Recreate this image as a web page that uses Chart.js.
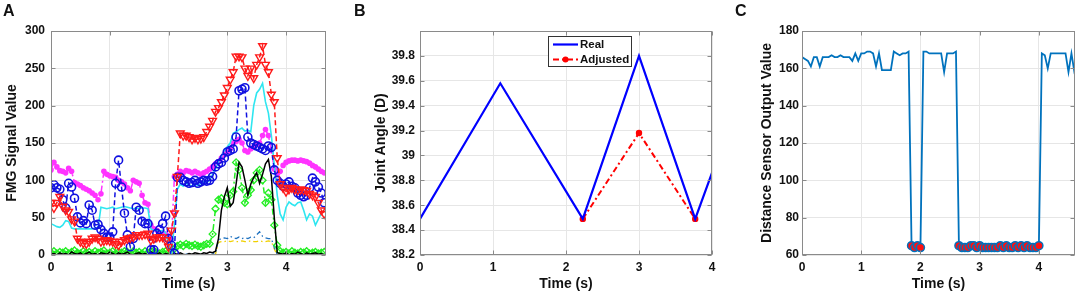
<!DOCTYPE html>
<html>
<head>
<meta charset="utf-8">
<script src="https://cdn.jsdelivr.net/npm/chart.js@4.4.0/dist/chart.umd.min.js"></script>
<style>
  body { margin: 0; background: #fff; width: 1084px; height: 302px; position: relative; overflow: hidden; }
  canvas { position: absolute; top: 0; }
  .lbl { position: absolute; top: 2px; font: bold 16px "Liberation Sans", Arial, sans-serif; color: #111; z-index: 2; }
</style>
</head>
<body>
<canvas id="chartA" width="345" height="302" style="left:0"></canvas>
<canvas id="chartB" width="362" height="302" style="left:368px"></canvas>
<canvas id="chartC" width="332" height="302" style="left:752px"></canvas>
<div class="lbl" style="left:3px">A</div>
<div class="lbl" style="left:354px">B</div>
<div class="lbl" style="left:735px">C</div>
<script>
// time stamps (s) shared by panel A and panel C
var tA = [0,0.05,0.1,0.15,0.2,0.25,0.3,0.35,0.4,0.45,
          0.5,0.55,0.6,0.65,0.7,0.75,0.8,0.85,0.9,0.95,
          1,1.05,1.1,1.15,1.2,1.25,1.3,1.35,1.4,1.45,
          1.5,1.55,1.6,1.65,1.7,1.75,1.8,1.85,1.9,1.95,
          2,2.05,2.1,2.15,2.2,2.25,2.3,2.35,2.4,2.45,
          2.5,2.55,2.6,2.65,2.7,2.75,2.8,2.85,2.9,2.95,
          3,3.05,3.1,3.15,3.2,3.25,3.3,3.35,3.4,3.45,
          3.5,3.55,3.6,3.65,3.7,3.75,3.8,3.85,3.9,3.95,
          4,4.05,4.1,4.15,4.2,4.25,4.3,4.35,4.4,4.45,
          4.5,4.55,4.6,4.65];

// panel A: FMG channels
var fmgRed = [70,63,70,78,65,60,58,48,45,22,
              18,16,15,18,22,24,22,18,19,20,
              19,18,15,13,18,20,22,23,24,27,
              27,27,28,29,20,22,24,24,24,20,
              11,33,56,105,163,160,160,158,155,157,
              155,156,158,165,172,180,192,197,205,214,
              224,235,245,266,266,265,250,240,250,237,
              255,265,280,255,245,215,205,130,95,90,
              85,88,90,88,87,88,87,86,82,80,
              78,70,60,55];
var fmgBlue = [90,94,90,88,74,63,96,91,76,51,
               43,46,42,67,60,40,41,34,29,24,
               24,31,96,127,91,56,27,11,22,64,
               60,45,42,42,7,7,29,34,42,52,
               22,13,2,104,104,100,98,96,97,100,
               96,98,100,99,100,105,118,122,124,130,
               138,140,142,158,220,222,224,158,150,148,
               146,144,142,140,146,144,114,100,96,92,
               95,98,92,90,83,80,78,80,90,103,
               98,91,83,70];
var fmgMagenta = [114,124,118,113,112,110,116,112,97,95,
                  93,90,88,86,83,80,74,82,112,108,
                  106,105,104,100,98,95,90,86,100,98,
                  96,80,70,68,40,35,33,30,30,28,
                  25,20,105,108,112,110,113,112,110,112,
                  110,108,110,112,115,118,122,125,130,135,
                  138,142,150,152,155,150,140,138,142,145,
                  148,150,160,168,160,140,115,108,112,120,
                  124,126,127,127,126,127,126,125,123,120,
                  118,115,112,110];
var fmgCyan = [42,40,38,37,40,46,45,36,35,35,
               35,35,35,35,35,36,36,64,63,62,
               63,64,62,63,64,65,64,63,62,63,
               62,63,63,62,35,33,33,32,33,30,
               15,4,40,88,95,92,96,94,92,95,
               93,96,98,97,100,108,115,125,132,140,
               145,150,163,165,168,170,166,167,165,200,
               217,222,230,205,190,160,120,80,55,47,
               64,71,68,66,70,71,60,47,55,52,
               40,48,56,60];
var fmgGreen = [3,5,2,4,3,5,2,4,6,3,
                2,5,3,4,2,5,3,4,6,2,
                3,5,2,4,3,5,4,2,5,3,
                4,2,5,3,4,6,3,2,4,5,
                3,2,8,12,14,12,15,13,12,14,
                12,11,13,15,15,28,62,74,76,70,
                68,80,85,124,114,90,70,80,87,100,
                110,114,100,70,83,74,40,13,5,3,
                4,2,5,3,2,4,3,5,2,3,
                4,2,3,4];
var fmgBlack = [1,2,0,3,1,2,0,4,2,1,
                3,0,2,4,1,2,0,3,2,1,
                4,2,0,3,1,2,4,1,0,2,
                3,1,2,0,4,2,1,3,0,2,
                1,0,2,1,3,1,0,2,1,3,
                2,1,3,2,4,3,5,22,60,78,
                90,65,70,95,124,118,100,80,95,104,
                110,96,108,122,128,105,50,3,2,1,
                3,0,2,1,4,2,0,3,1,2,
                3,1,2,0];
var fmgDarkBlue = [1,0,1,1,0,1,0,1,1,0,
                   1,1,0,1,0,1,1,0,1,0,
                   1,0,1,1,0,1,0,1,0,1,
                   1,0,1,0,1,1,0,1,0,1,
                   0,1,1,0,1,0,1,1,0,1,
                   1,0,1,1,0,1,3,20,22,23,
                   22,25,23,22,24,22,23,22,24,23,
                   27,31,25,23,22,22,10,1,0,1,
                   1,0,1,0,1,1,0,1,0,1,
                   0,1,1,0];
var fmgYellow = [0,0,0,0,0,0,0,0,0,0,
                 0,0,0,0,0,0,0,0,0,0,
                 0,0,0,0,0,0,0,0,0,0,
                 0,0,0,0,0,0,0,0,0,0,
                 0,0,0,0,0,0,0,0,0,0,
                 0,0,0,0,0,0,1,17,18,18,
                 19,18,19,18,18,19,18,18,19,18,
                 18,19,18,18,19,18,8,0,0,0,
                 0,0,0,0,0,0,0,0,0,0,
                 0,0,0,0];

// panel B: joint angle
var tReal = [0, 1.1, 2.23, 3.0, 3.77, 4.0];
var angleReal = [38.49, 39.58, 38.49, 39.8, 38.49, 38.86];
var tAdj = [2.23, 3.0, 3.77];
var angleAdj = [38.49, 39.18, 38.49];

// panel C: distance sensor
var distance = [166,165,164,161,166,166,161,166,166,166,
                167,166,166,167,166,166,166,164,168,164,
                168,168,169,169,168,161,168,159,159,159,
                159,169,168,167,168,168,169,65,64,65,
                64,169,169,168,168,168,168,168,158,168,
                168,168,169,65,64,64,64,65,65,64,
                65,64,64,64,64,64,64,65,64,65,
                64,64,65,64,65,64,65,64,64,64,
                65,168,167,160,168,168,168,168,168,168,
                158,168,158,160];
var tMark = [1.85,1.9,1.95,2,
             2.65,2.7,2.75,2.8,2.85,2.9,2.95,3,3.05,3.1,3.15,3.2,3.25,3.3,3.35,3.4,3.45,
             3.5,3.55,3.6,3.65,3.7,3.75,3.8,3.85,3.9,3.95,4];
var distMark = [65,64,65,64,
                65,64,64,64,65,65,64,65,64,64,64,64,64,64,65,64,65,
                64,64,65,64,65,64,65,64,64,64,65];

var tickFont = {family: 'Liberation Sans', weight: 'bold', size: 12};
var titleFont = {family: 'Liberation Sans', weight: 'bold', size: 14};
var clear = 'rgba(0,0,0,0)';

function series(label, xs, ys, style) {
  return Object.assign({
    label: label,
    data: xs.map(function (x, i) { return {x: x, y: ys[i]}; }),
    fill: false, tension: 0, pointRadius: 0, borderWidth: 1.5
  }, style);
}

// matlab style box with inward ticks
var frame = {
  id: 'frame',
  afterDatasetsDraw: function (chart) {
    var ctx = chart.ctx, a = chart.chartArea, sx = chart.scales.x, sy = chart.scales.y;
    var l = Math.round(a.left) + 0.5, r = Math.round(a.right) - 0.5;
    var t = Math.round(a.top) + 0.5, b = Math.round(a.bottom) - 0.5;
    ctx.save();
    ctx.strokeStyle = '#8a8a8a';
    ctx.lineWidth = 1;
    ctx.setLineDash([]);
    ctx.strokeRect(l, t, r - l, b - t);
    ctx.beginPath();
    sx.ticks.forEach(function (tk) {
      var px = Math.round(sx.getPixelForValue(tk.value)) + 0.5;
      ctx.moveTo(px, b); ctx.lineTo(px, b - 4);
      ctx.moveTo(px, t); ctx.lineTo(px, t + 4);
    });
    sy.ticks.forEach(function (tk) {
      var py = Math.round(sy.getPixelForValue(tk.value)) + 0.5;
      ctx.moveTo(l, py); ctx.lineTo(l + 4, py);
      ctx.moveTo(r, py); ctx.lineTo(r - 4, py);
    });
    ctx.stroke();
    ctx.restore();
  }
};

var boxLegend = {
  id: 'boxLegend',
  afterDraw: function (chart) {
    var ctx = chart.ctx, a = chart.chartArea;
    var x = a.left + 128, y = a.top + 5, w = 83, h = 30;
    ctx.save();
    ctx.fillStyle = '#fff';
    ctx.fillRect(x, y, w, h);
    ctx.strokeStyle = '#333';
    ctx.lineWidth = 1;
    ctx.strokeRect(x + 0.5, y + 0.5, w, h);
    ctx.font = 'bold 11.5px "Liberation Sans"';
    ctx.textBaseline = 'middle';
    chart.data.datasets.forEach(function (ds, i) {
      var ly = y + 8.5 + i * 15;
      ctx.strokeStyle = ds.borderColor;
      ctx.lineWidth = ds.borderWidth;
      ctx.setLineDash(ds.borderDash || []);
      ctx.beginPath(); ctx.moveTo(x + 5, ly); ctx.lineTo(x + 30, ly); ctx.stroke();
      ctx.setLineDash([]);
      if (ds.pointRadius) {
        ctx.fillStyle = ds.pointBackgroundColor;
        ctx.beginPath(); ctx.arc(x + 17.5, ly, 3, 0, 2 * Math.PI); ctx.fill();
      }
      ctx.fillStyle = '#111';
      ctx.fillText(ds.label, x + 32, ly);
    });
    ctx.restore();
  }
};

function makeOptions(o) {
  return {
    responsive: false,
    animation: false,
    devicePixelRatio: 1,
    layout: {padding: {left: 0, right: o.padRight, top: 31, bottom: 0}},
    plugins: {legend: {display: false}, tooltip: {enabled: false}},
    scales: {
      x: {
        type: 'linear', min: 0, max: o.xMax,
        afterFit: function (s) { s.height = 47; },
        grid: {color: '#e6e6e6', drawTicks: false},
        border: {display: false},
        ticks: {stepSize: 1, includeBounds: false, padding: 5, maxRotation: 0, font: tickFont, color: '#111'},
        title: {display: true, text: 'Time (s)', font: titleFont, color: '#111', padding: {bottom: 9}}
      },
      y: {
        type: 'linear', min: o.yMin, max: o.yMax,
        afterFit: function (s) { s.width = o.yWidth; },
        grid: {color: '#e6e6e6', drawTicks: false},
        border: {display: false},
        ticks: {stepSize: o.yStep, padding: o.yPad, font: tickFont, color: '#111', callback: o.yFmt},
        title: {display: true, text: o.yTitle, font: titleFont, color: '#111', padding: {top: o.yTitlePad}}
      }
    }
  };
}

var intFmt = function (v) { return String(Math.round(v)); };

new Chart(document.getElementById('chartA'), {
  type: 'line',
  data: {
    datasets: [
      series('Ch1', tA, fmgRed, {borderColor: '#ff1a1a', borderDash: [5, 3], pointStyle: 'triangle', pointRotation: 180,
        pointRadius: 4.5, pointBorderColor: '#ff1a1a', pointBackgroundColor: clear, pointBorderWidth: 1.4}),
      series('Ch2', tA, fmgBlue, {borderColor: '#1010e0', borderDash: [5, 3], pointStyle: 'circle',
        pointRadius: 4, pointBorderColor: '#1010e0', pointBackgroundColor: clear, pointBorderWidth: 1.6}),
      series('Ch3', tA, fmgCyan, {borderColor: '#2ee6f0', borderWidth: 1.6}),
      series('Ch4', tA, fmgMagenta, {borderColor: '#ff33ff', borderDash: [6, 3, 2, 3], pointStyle: 'circle',
        pointRadius: 2.8, pointBorderColor: '#ff33ff', pointBackgroundColor: '#ff33ff', pointBorderWidth: 0}),
      series('Ch5', tA, fmgBlack, {borderColor: '#000000'}),
      series('Ch6', tA, fmgGreen, {borderColor: '#22ee22', borderDash: [6, 3, 2, 3], pointStyle: 'rectRot',
        pointRadius: 3.5, pointBorderColor: '#22ee22', pointBackgroundColor: clear, pointBorderWidth: 1.3}),
      series('Ch7', tA, fmgDarkBlue, {borderColor: '#1f72c0', borderDash: [5, 3, 1.5, 3], borderWidth: 1.3}),
      series('Ch8', tA, fmgYellow, {borderColor: '#f0d000', borderDash: [5, 3, 1.5, 3], borderWidth: 1.3})
    ]
  },
  options: makeOptions({xMax: 4.68, yMin: 0, yMax: 300, yStep: 50, yWidth: 51, yPad: 6,
    padRight: 19, yTitle: 'FMG Signal Value', yTitlePad: 4, yFmt: intFmt}),
  plugins: [frame]
});

new Chart(document.getElementById('chartB'), {
  type: 'line',
  data: {
    datasets: [
      series('Real', tReal, angleReal, {borderColor: '#0000ff', borderWidth: 2.2}),
      series('Adjusted', tAdj, angleAdj, {borderColor: '#ff0000', borderWidth: 2, borderDash: [6, 3, 2, 3],
        pointRadius: 3.2, pointBackgroundColor: '#ff0000', pointBorderColor: '#ff0000', pointBorderWidth: 0})
    ]
  },
  options: makeOptions({xMax: 4, yMin: 38.2, yMax: 40, yStep: 0.2, yWidth: 52, yPad: 5,
    padRight: 18, yTitle: 'Joint Angle (D)', yTitlePad: 5,
    yFmt: function (v) { return v > 39.95 ? '' : String(Math.round(v * 10) / 10); }}),
  plugins: [frame, boxLegend]
});

new Chart(document.getElementById('chartC'), {
  type: 'line',
  data: {
    datasets: [
      series('Marked', tMark, distMark, {showLine: false, pointStyle: 'circle', pointRadius: 4,
        pointBackgroundColor: '#ff1010', pointBorderColor: '#0072bd', pointBorderWidth: 1.5}),
      series('Distance', tA, distance, {borderColor: '#0072bd', borderWidth: 1.8})
    ]
  },
  options: makeOptions({xMax: 4.61, yMin: 60, yMax: 180, yStep: 20, yWidth: 50, yPad: 3,
    padRight: 9, yTitle: 'Distance Sensor Output Value', yTitlePad: 7, yFmt: intFmt}),
  plugins: [frame]
});
</script>
</body>
</html>
